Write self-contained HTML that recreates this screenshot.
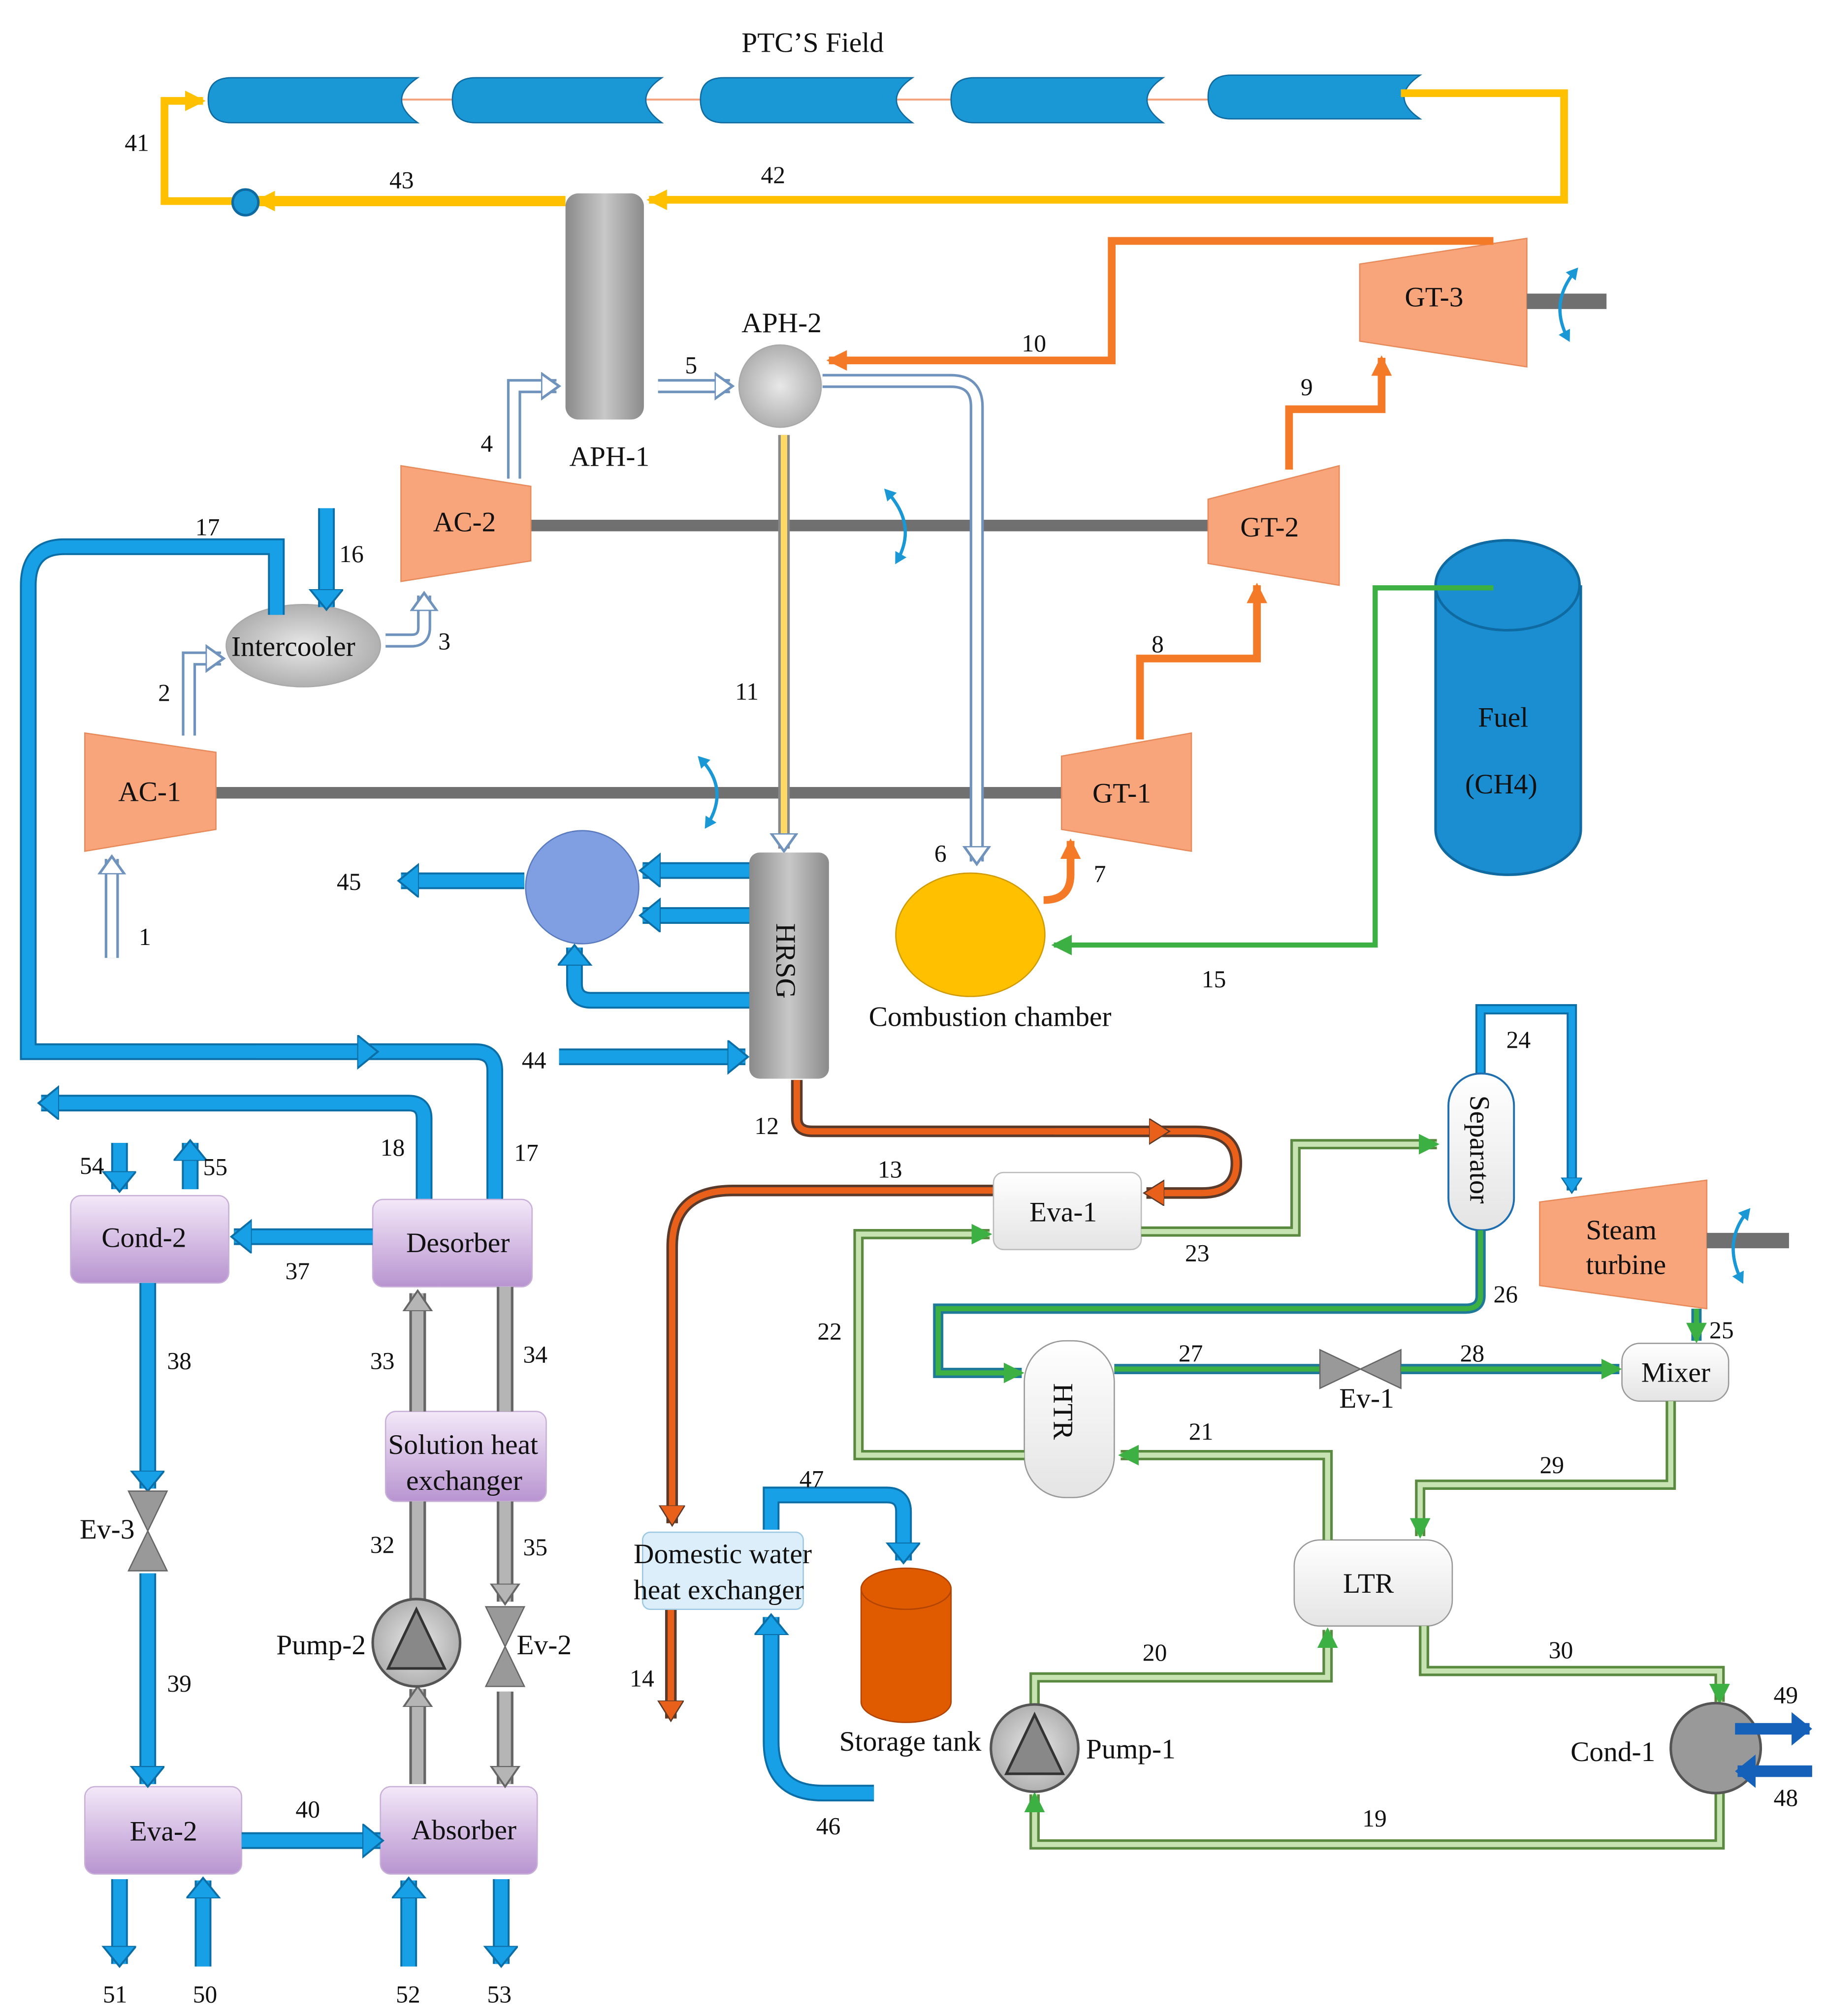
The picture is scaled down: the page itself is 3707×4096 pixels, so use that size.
<!DOCTYPE html>
<html><head><meta charset="utf-8"><style>
html,body{margin:0;padding:0;background:#fff}
svg{display:block}
text{font-family:"Liberation Serif",serif;fill:#111}
.n{font-size:19px}
.l{font-size:22px}
.bl{fill:none;stroke:#18a0e6;stroke-width:10}
.bo{fill:none;stroke:#0b6ea6;stroke-width:13}
.or{fill:none;stroke:#f47a28;stroke-width:6}
.ye{fill:none;stroke:#ffc000;stroke-width:6}
.gr{fill:none;stroke:#3cb043;stroke-width:4}
.wo{fill:none;stroke:#6f93bd;stroke-width:11}
.wi{fill:none;stroke:#fff;stroke-width:7}
.go{fill:none;stroke:#666;stroke-width:13}
.gi{fill:none;stroke:#b5b5b5;stroke-width:9}
.lgo{fill:none;stroke:#5a8a40;stroke-width:8}
.lgi{fill:none;stroke:#c7e3b2;stroke-width:4}
.dgo{fill:none;stroke:#1f7a9a;stroke-width:8}
.dgi{fill:none;stroke:#3cb043;stroke-width:4}
.ro{fill:none;stroke:#5a3a2a;stroke-width:9}
.ri{fill:none;stroke:#e8601a;stroke-width:5}
.rot{fill:none;stroke:#1a98d6;stroke-width:2.5}
</style></head><body>
<svg width="3707" height="4096" viewBox="0 0 1420 1568" xmlns="http://www.w3.org/2000/svg">
<defs>
<marker id="ab" markerUnits="userSpaceOnUse" markerWidth="30" markerHeight="30" refX="14" refY="13" orient="auto"><path d="M0,0 L16,13 L0,26 Z" fill="#18a0e6" stroke="#0b6ea6" stroke-width="1.5"/></marker>
<marker id="ab2" markerUnits="userSpaceOnUse" markerWidth="20" markerHeight="20" refX="10" refY="8" orient="auto"><path d="M0,0 L12,8 L0,16 Z" fill="#18a0e6" stroke="#0b6ea6" stroke-width="1"/></marker>
<marker id="ars" markerUnits="userSpaceOnUse" markerWidth="12" markerHeight="12" refX="6" refY="5" orient="auto"><path d="M0,0 L9,5 L0,10 Z" fill="#1a98d6"/></marker>
<marker id="ars2" markerUnits="userSpaceOnUse" markerWidth="12" markerHeight="12" refX="6" refY="5" orient="auto-start-reverse"><path d="M0,0 L9,5 L0,10 Z" fill="#1a98d6"/></marker>
<marker id="adb" markerUnits="userSpaceOnUse" markerWidth="30" markerHeight="30" refX="14" refY="13" orient="auto"><path d="M0,0 L16,13 L0,26 Z" fill="#1560b8"/></marker>
<marker id="ao" markerUnits="userSpaceOnUse" markerWidth="20" markerHeight="20" refX="14" refY="8" orient="auto"><path d="M0,0 L16,8 L0,16 Z" fill="#f47a28"/></marker>
<marker id="ay" markerUnits="userSpaceOnUse" markerWidth="20" markerHeight="20" refX="14" refY="8" orient="auto"><path d="M0,0 L16,8 L0,16 Z" fill="#ffc000"/></marker>
<marker id="ag" markerUnits="userSpaceOnUse" markerWidth="20" markerHeight="20" refX="14" refY="8" orient="auto"><path d="M0,0 L16,8 L0,16 Z" fill="#3cb043"/></marker>
<marker id="aw" markerUnits="userSpaceOnUse" markerWidth="24" markerHeight="24" refX="12" refY="11" orient="auto"><path d="M0,1 L14,11 L0,21 Z" fill="#fff" stroke="#6f93bd" stroke-width="2"/></marker>
<marker id="agr" markerUnits="userSpaceOnUse" markerWidth="26" markerHeight="26" refX="14" refY="12" orient="auto"><path d="M0,1 L16,12 L0,23 Z" fill="#b5b5b5" stroke="#666" stroke-width="1.5"/></marker>
<marker id="ar" markerUnits="userSpaceOnUse" markerWidth="24" markerHeight="24" refX="14" refY="10" orient="auto"><path d="M0,0 L16,10 L0,20 Z" fill="#e8601a" stroke="#5a3a2a" stroke-width="1"/></marker>
<linearGradient id="gg" x1="0" x2="1"><stop offset="0" stop-color="#8a8a8a"/><stop offset=".5" stop-color="#c8c8c8"/><stop offset="1" stop-color="#8a8a8a"/></linearGradient>
<linearGradient id="pg" x1="0" y1="0" x2="0" y2="1"><stop offset="0" stop-color="#f3e8f8"/><stop offset="1" stop-color="#b894d0"/></linearGradient>
<linearGradient id="wg" x1="0" y1="0" x2="0" y2="1"><stop offset="0" stop-color="#fff"/><stop offset="1" stop-color="#e4e4e4"/></linearGradient>
<radialGradient id="cg"><stop offset="0" stop-color="#e8e8e8"/><stop offset="1" stop-color="#b0b0b0"/></radialGradient>
</defs>

<!-- PTC field -->
<text class="l" x="577" y="40">PTC’S Field</text>
<line x1="300" y1="77" x2="960" y2="77" stroke="#f4a07a" stroke-width="1.5"/>
<g fill="#1a98d6" stroke="#0e6aa0" stroke-width="1">
<path d="M180,60 H325 Q300,77 325,95 H180 Q162,95 162,77 Q162,60 180,60 Z"/>
<path d="M370,60 H515 Q490,77 515,95 H370 Q352,95 352,77 Q352,60 370,60 Z"/>
<path d="M563,60 H710 Q685,77 710,95 H563 Q545,95 545,77 Q545,60 563,60 Z"/>
<path d="M758,60 H905 Q880,77 905,95 H758 Q740,95 740,77 Q740,60 758,60 Z"/>
<path d="M958,58 H1105 Q1080,75 1105,92 H958 Q940,92 940,75 Q940,58 958,58 Z"/>
</g>
<path class="ye" d="M1090,72 H1217 V155 H505" marker-end="url(#ay)"/>
<path class="ye" d="M440,156 H200" marker-end="url(#ay)" style="stroke-width:8"/>
<path class="ye" d="M190,156 H128 V78 H158" marker-end="url(#ay)"/>
<circle cx="191" cy="157" r="10" fill="#1a98d6" stroke="#0e6aa0" stroke-width="2"/>
<text class="n" x="97" y="117">41</text><text class="n" x="592" y="142">42</text><text class="n" x="303" y="146">43</text>

<!-- APH-1, APH-2 -->
<rect x="440" y="150" width="61" height="176" rx="10" fill="url(#gg)"/>
<text class="l" x="443" y="362">APH-1</text>
<circle cx="607" cy="300" r="32" fill="url(#cg)" stroke="#aaa"/>
<text class="l" x="577" y="258">APH-2</text>

<!-- GT-3 -->
<polygon points="1058,205 1188,185 1188,285 1058,265" fill="#f9a57c" stroke="#e88a5a"/>
<text class="l" x="1093" y="238">GT-3</text>
<rect x="1188" y="228" width="62" height="12" fill="#707070"/>
<path class="rot" d="M1226,210 Q1205,235 1220,263" marker-start="url(#ars2)" marker-end="url(#ars)"/>
<!-- orange gas -->
<path class="or" d="M1162,187 H865 V280 H645" marker-end="url(#ao)"/>
<text class="n" x="795" y="273">10</text>
<path class="or" d="M1003,365 V318 H1075 V278" marker-end="url(#ao)"/>
<text class="n" x="1012" y="307">9</text>
<path class="or" d="M887,575 V512 H978 V455" marker-end="url(#ao)"/>
<text class="n" x="896" y="507">8</text>
<path class="or" d="M812,700 Q833,700 833,680 V654" marker-end="url(#ao)"/>
<text class="n" x="851" y="686">7</text>

<!-- shafts -->
<rect x="413" y="404" width="530" height="9" fill="#707070"/>
<rect x="168" y="612" width="660" height="9" fill="#707070"/>
<polygon points="312,362 413,378 413,436 312,452" fill="#f9a57c" stroke="#e88a5a"/>
<text class="l" x="337" y="413">AC-2</text>
<polygon points="940,388 1042,362 1042,455 940,438" fill="#f9a57c" stroke="#e88a5a"/>
<text class="l" x="965" y="417">GT-2</text>
<polygon points="66,570 168,585 168,645 66,662" fill="#f9a57c" stroke="#e88a5a"/>
<text class="l" x="92" y="623">AC-1</text>
<polygon points="826,588 927,570 927,662 826,645" fill="#f9a57c" stroke="#e88a5a"/>
<text class="l" x="850" y="624">GT-1</text>
<path class="rot" d="M690,382 Q714,408 698,436" marker-start="url(#ars2)" marker-end="url(#ars)"/>
<path class="rot" d="M545,590 Q568,614 550,642" marker-start="url(#ars2)" marker-end="url(#ars)"/>

<!-- Fuel -->
<path d="M1117,455 V645 A56,35 0 0 0 1230,645 V455" fill="#1a8ed0" stroke="#0e6aa0" stroke-width="2"/>
<ellipse cx="1173" cy="455" rx="56" ry="35" fill="#1a8ed0" stroke="#0e6aa0" stroke-width="2"/>
<text class="l" x="1150" y="565">Fuel</text>
<text class="l" x="1140" y="617">(CH4)</text>
<path class="gr" d="M1162,457 H1070 V735 H820" marker-end="url(#ag)"/>
<text class="n" x="935" y="768">15</text>

<!-- air pipes -->
<path class="wo" d="M87,745 V668"/><path class="wi" d="M87,745 V668" marker-end="url(#aw)"/>
<text class="n" x="108" y="735">1</text>
<path class="wo" d="M147,572 V512 H172"/><path class="wi" d="M147,572 V512 H172" marker-end="url(#aw)"/>
<text class="n" x="123" y="545">2</text>
<path class="wo" d="M300,498 H320 Q330,498 330,488 V463"/><path class="wi" d="M300,498 H320 Q330,498 330,488 V463" marker-end="url(#aw)"/>
<text class="n" x="341" y="505">3</text>
<path class="wo" d="M400,372 V300 H433"/><path class="wi" d="M400,372 V300 H433" marker-end="url(#aw)"/>
<text class="n" x="374" y="351">4</text>
<path class="wo" d="M512,300 H568"/><path class="wi" d="M512,300 H568" marker-end="url(#aw)"/>
<text class="n" x="533" y="290">5</text>
<path class="wo" d="M640,296 H740 Q760,296 760,316 V670"/><path class="wi" d="M640,296 H740 Q760,296 760,316 V670" marker-end="url(#aw)"/>
<text class="n" x="727" y="670">6</text>
<path d="M610,338 V660" fill="none" stroke="#888" stroke-width="9"/>
<path d="M610,338 V660" fill="none" stroke="#ffd966" stroke-width="5" marker-end="url(#aw)"/>
<text class="n" x="572" y="544">11</text>

<ellipse cx="236" cy="502" rx="60" ry="32" fill="url(#cg)" stroke="#aaa"/>
<text class="l" x="180" y="510">Intercooler</text>
<ellipse cx="755" cy="727" rx="58" ry="48" fill="#ffc000" stroke="#d09a00"/>
<text class="l" x="676" y="798">Combustion chamber</text>

<!-- HRSG -->
<rect x="583" y="663" width="62" height="176" rx="8" fill="url(#gg)"/>
<text class="l" transform="translate(604,718) rotate(90)">HRSG</text>
<circle cx="453" cy="690" r="44" fill="#7f9fe2" stroke="#5a7ac0"/>
<path class="bo" d="M583,677 H500"/><path class="bl" d="M583,677 H500" marker-end="url(#ab)"/>
<path class="bo" d="M583,712 H500"/><path class="bl" d="M583,712 H500" marker-end="url(#ab)"/>
<path class="bo" d="M583,778 H460 Q447,778 447,765 V737"/><path class="bl" d="M583,778 H460 Q447,778 447,765 V737" marker-end="url(#ab)"/>
<path class="bo" d="M408,685 H312"/><path class="bl" d="M408,685 H312" marker-end="url(#ab)"/>
<text class="n" x="262" y="692">45</text>
<path class="bo" d="M435,822 H580"/><path class="bl" d="M435,822 H580" marker-end="url(#ab)"/>
<text class="n" x="406" y="831">44</text>

<!-- cooling water -->
<path class="bo" d="M254,395 V472"/><path class="bl" d="M254,395 V472" marker-end="url(#ab)"/>
<text class="n" x="264" y="437">16</text>
<path class="bo" d="M215,478 V425 H50 Q22,425 22,455 V818 H370 Q385,818 385,833 V933"/>
<path class="bl" d="M215,478 V425 H50 Q22,425 22,455 V818 H370 Q385,818 385,833 V933"/>
<path class="bl" d="M200,818 H292" marker-end="url(#ab)"/>
<text class="n" x="152" y="416">17</text>
<text class="n" x="400" y="903">17</text>
<path class="bo" d="M330,933 V870 Q330,858 318,858 H32"/><path class="bl" d="M330,933 V870 Q330,858 318,858 H32" marker-end="url(#ab)"/>
<text class="n" x="296" y="899">18</text>

<!-- absorption chiller -->
<rect x="55" y="930" width="123" height="68" rx="8" fill="url(#pg)" stroke="#c8b0d8"/>
<text class="l" x="79" y="970">Cond-2</text>
<rect x="290" y="933" width="124" height="68" rx="8" fill="url(#pg)" stroke="#c8b0d8"/>
<text class="l" x="316" y="974">Desorber</text>
<rect x="300" y="1098" width="125" height="70" rx="8" fill="url(#pg)" stroke="#c8b0d8"/>
<text class="l" x="302" y="1131">Solution heat</text>
<text class="l" x="316" y="1159">exchanger</text>
<rect x="66" y="1390" width="122" height="68" rx="8" fill="url(#pg)" stroke="#c8b0d8"/>
<text class="l" x="101" y="1432">Eva-2</text>
<rect x="296" y="1390" width="122" height="68" rx="8" fill="url(#pg)" stroke="#c8b0d8"/>
<text class="l" x="320" y="1431">Absorber</text>

<path class="bo" d="M93,889 V925"/><path class="bl" d="M93,889 V925" marker-end="url(#ab)"/>
<path class="bo" d="M148,925 V889"/><path class="bl" d="M148,925 V889" marker-end="url(#ab)"/>
<text class="n" x="62" y="913">54</text><text class="n" x="158" y="914">55</text>
<path class="bo" d="M290,962 H182"/><path class="bl" d="M290,962 H182" marker-end="url(#ab)"/>
<text class="n" x="222" y="995">37</text>
<path class="bo" d="M115,998 V1158"/><path class="bl" d="M115,998 V1158" marker-end="url(#ab)"/>
<text class="n" x="130" y="1065">38</text>
<path class="bo" d="M115,1224 V1388"/><path class="bl" d="M115,1224 V1388" marker-end="url(#ab)"/>
<text class="n" x="130" y="1316">39</text>
<polygon points="100,1160 130,1160 100,1222 130,1222" fill="#999" stroke="#666"/>
<text class="l" x="62" y="1197">Ev-3</text>
<path class="bo" d="M188,1432 H296"/><path class="bl" d="M188,1432 H296" marker-end="url(#ab)"/>
<text class="n" x="230" y="1414">40</text>
<path class="bo" d="M93,1462 V1528"/><path class="bl" d="M93,1462 V1528" marker-end="url(#ab)"/>
<path class="bo" d="M158,1530 V1463"/><path class="bl" d="M158,1530 V1463" marker-end="url(#ab)"/>
<path class="bo" d="M318,1530 V1463"/><path class="bl" d="M318,1530 V1463" marker-end="url(#ab)"/>
<path class="bo" d="M390,1462 V1528"/><path class="bl" d="M390,1462 V1528" marker-end="url(#ab)"/>
<text class="n" x="80" y="1558">51</text><text class="n" x="150" y="1558">50</text><text class="n" x="308" y="1558">52</text><text class="n" x="379" y="1558">53</text>

<path class="go" d="M325,1098 V1006"/><path class="gi" d="M325,1098 V1006" marker-end="url(#agr)"/>
<text class="n" x="288" y="1065">33</text>
<path class="go" d="M393,1001 V1098"/><path class="gi" d="M393,1001 V1098"/>
<text class="n" x="407" y="1060">34</text>
<path class="go" d="M325,1168 V1244"/><path class="gi" d="M325,1168 V1244"/>
<text class="n" x="288" y="1208">32</text>
<path class="go" d="M393,1168 V1246"/><path class="gi" d="M393,1168 V1246" marker-end="url(#agr)"/>
<text class="n" x="407" y="1210">35</text>
<path class="go" d="M325,1388 V1314"/><path class="gi" d="M325,1388 V1314" marker-end="url(#agr)"/>
<path class="go" d="M393,1316 V1388"/><path class="gi" d="M393,1316 V1388" marker-end="url(#agr)"/>
<circle cx="324" cy="1278" r="34" fill="url(#cg)" stroke="#555" stroke-width="2"/>
<polygon points="324,1252 302,1298 346,1298" fill="#888" stroke="#333" stroke-width="2"/>
<text class="l" x="215" y="1287">Pump-2</text>
<polygon points="378,1250 408,1250 378,1312 408,1312" fill="#999" stroke="#666"/>
<text class="l" x="402" y="1287">Ev-2</text>

<!-- exhaust -->
<path class="ro" d="M620,840 V870 Q620,880 632,880 H930 Q962,880 962,905 Q962,928 935,928 H892"/>
<path class="ri" d="M620,840 V870 Q620,880 632,880 H930 Q962,880 962,905 Q962,928 935,928 H892" marker-end="url(#ar)"/>
<path class="ri" d="M820,880 H908" marker-end="url(#ar)"/>
<text class="n" x="587" y="882">12</text>
<path class="ro" d="M773,926 H570 Q523,926 523,970 V1185"/>
<path class="ri" d="M773,926 H570 Q523,926 523,970 V1185" marker-end="url(#ar)"/>
<text class="n" x="683" y="916">13</text>
<path class="ro" d="M522,1252 V1337"/><path class="ri" d="M522,1252 V1337" marker-end="url(#ar)"/>
<text class="n" x="490" y="1312">14</text>

<path class="bo" d="M680,1395 H640 Q600,1395 600,1355 V1258"/><path class="bl" d="M680,1395 H640 Q600,1395 600,1355 V1258" marker-end="url(#ab)"/>
<text class="n" x="635" y="1427">46</text>
<path class="bo" d="M600,1190 V1163 H690 Q703,1163 703,1176 V1214"/><path class="bl" d="M600,1190 V1163 H690 Q703,1163 703,1176 V1214" marker-end="url(#ab)"/>
<text class="n" x="622" y="1157">47</text>
<rect x="500" y="1192" width="125" height="60" rx="6" fill="#dbeef9" stroke="#9cc8e4"/>
<text class="l" x="493" y="1216">Domestic water</text>
<text class="l" x="493" y="1244">heat exchanger</text>
<path d="M670,1236 V1324 A35,16 0 0 0 740,1324 V1236" fill="#e05a00" stroke="#b04400"/>
<ellipse cx="705" cy="1236" rx="35" ry="16" fill="#e05a00" stroke="#b04400"/>
<text class="l" x="653" y="1362">Storage tank</text>

<!-- sCO2 cycle -->
<rect x="773" y="912" width="115" height="60" rx="8" fill="url(#wg)" stroke="#bbb"/>
<text class="l" x="801" y="950">Eva-1</text>
<path class="lgo" d="M888,958 H1008 V890 H1118"/><path class="lgi" d="M888,958 H1008 V890 H1118" marker-end="url(#ag)"/>
<text class="n" x="922" y="981">23</text>
<path d="M1152,835 V785 H1223 V926" fill="none" stroke="#0b6ea6" stroke-width="8"/>
<path d="M1152,835 V785 H1223 V926" fill="none" stroke="#18a0e6" stroke-width="5" marker-end="url(#ab2)"/>
<rect x="1127" y="835" width="51" height="122" rx="25" fill="url(#wg)" stroke="#1f6fb0" stroke-width="1.5"/>
<text class="l" transform="translate(1144,852) rotate(90)">Separator</text>
<text class="n" x="1172" y="815">24</text>
<polygon points="1198,935 1328,918 1328,1018 1198,1000" fill="#f9a57c" stroke="#e88a5a"/>
<text class="l" x="1234" y="964">Steam</text>
<text class="l" x="1234" y="991">turbine</text>
<rect x="1328" y="959" width="64" height="12" fill="#707070"/>
<path class="rot" d="M1360,942 Q1340,966 1355,996" marker-start="url(#ars2)" marker-end="url(#ars)"/>
<path class="dgo" d="M1152,957 V1008 Q1152,1018 1140,1018 H730 V1068 H795"/><path class="dgi" d="M1152,957 V1008 Q1152,1018 1140,1018 H730 V1068 H795" marker-end="url(#ag)"/>
<text class="n" x="1162" y="1013">26</text>
<path class="dgo" d="M1320,1018 V1043"/><path class="dgi" d="M1320,1018 V1043" marker-end="url(#ag)"/>
<text class="n" x="1330" y="1041">25</text>
<rect x="797" y="1043" width="70" height="122" rx="32" fill="url(#wg)" stroke="#999"/>
<text class="l" transform="translate(820,1076) rotate(90)">HTR</text>
<path class="dgo" d="M867,1065 H1027"/><path class="dgi" d="M867,1065 H1027"/>
<text class="n" x="917" y="1059">27</text>
<polygon points="1027,1050 1027,1080 1090,1050 1090,1080" fill="#999" stroke="#666"/>
<text class="l" x="1042" y="1095">Ev-1</text>
<path class="dgo" d="M1090,1065 H1260"/><path class="dgi" d="M1090,1065 H1260" marker-end="url(#ag)"/>
<text class="n" x="1136" y="1059">28</text>
<rect x="1262" y="1045" width="83" height="45" rx="14" fill="url(#wg)" stroke="#999"/>
<text class="l" x="1277" y="1075">Mixer</text>
<path class="lgo" d="M1300,1090 V1155 H1105 V1195"/><path class="lgi" d="M1300,1090 V1155 H1105 V1195" marker-end="url(#ag)"/>
<text class="n" x="1198" y="1146">29</text>
<rect x="1007" y="1198" width="123" height="67" rx="20" fill="url(#wg)" stroke="#999"/>
<text class="l" x="1045" y="1239">LTR</text>
<path class="lgo" d="M1033,1198 V1132 H872"/><path class="lgi" d="M1033,1198 V1132 H872" marker-end="url(#ag)"/>
<text class="n" x="925" y="1120">21</text>
<path class="lgo" d="M797,1132 H668 V960 H770"/><path class="lgi" d="M797,1132 H668 V960 H770" marker-end="url(#ag)"/>
<text class="n" x="636" y="1042">22</text>
<path class="lgo" d="M805,1326 V1305 H1033 V1268"/><path class="lgi" d="M805,1326 V1305 H1033 V1268" marker-end="url(#ag)"/>
<text class="n" x="889" y="1292">20</text>
<path class="lgo" d="M1108,1265 V1300 H1338 V1324"/><path class="lgi" d="M1108,1265 V1300 H1338 V1324" marker-end="url(#ag)"/>
<text class="n" x="1205" y="1290">30</text>
<path class="lgo" d="M1338,1395 V1435 H805 V1396"/><path class="lgi" d="M1338,1395 V1435 H805 V1396" marker-end="url(#ag)"/>
<text class="n" x="1060" y="1421">19</text>
<circle cx="805" cy="1360" r="34" fill="url(#cg)" stroke="#555" stroke-width="2"/>
<polygon points="805,1334 783,1380 827,1380" fill="#888" stroke="#333" stroke-width="2"/>
<text class="l" x="845" y="1368">Pump-1</text>
<circle cx="1335" cy="1360" r="35" fill="#999" stroke="#555" stroke-width="2"/>
<text class="l" x="1222" y="1370">Cond-1</text>
<path d="M1350,1345 H1408" fill="none" stroke="#1560b8" stroke-width="9" marker-end="url(#adb)"/>
<path d="M1410,1378 H1352" fill="none" stroke="#1560b8" stroke-width="9" marker-end="url(#adb)"/>
<text class="n" x="1380" y="1325">49</text><text class="n" x="1380" y="1405">48</text>
</svg>
</body></html>
